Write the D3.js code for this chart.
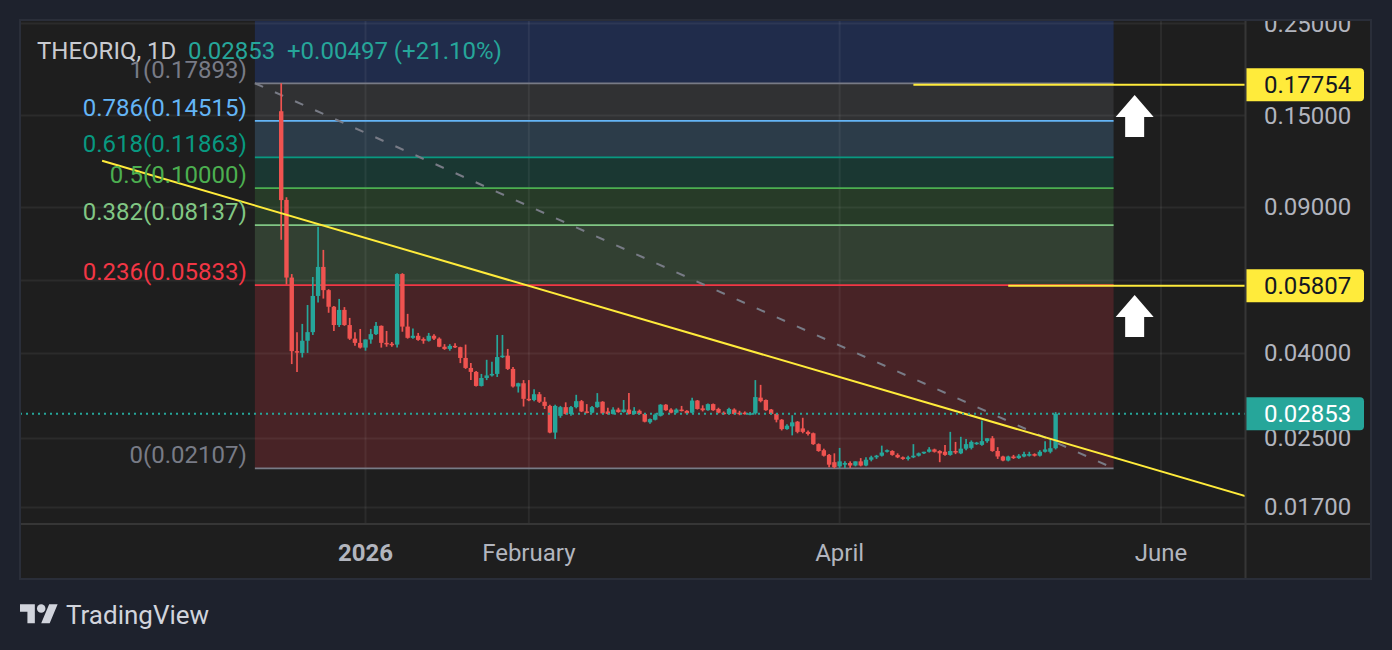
<!DOCTYPE html>
<html>
<head>
<meta charset="utf-8">
<script src="https://cdn.jsdelivr.net/npm/d3@7"></script>
<style>
  body { margin: 0; background: #1e222d; }
  svg { display: block; font-family: Roboto, "Noto Sans", sans-serif; }
</style>
</head>
<body>
<svg id="chart" width="1392" height="650"></svg>
<script>
// daily candles, THEORIQ 1D, first bar 2025-12-16
const firstDay = "2025-12-16";
const opens = [
  0.1532, 0.0936, 0.0608, 0.0404, 0.0400, 0.0428, 0.0449, 0.0549, 0.0645, 0.0567,
  0.0517, 0.0467, 0.0508, 0.0467, 0.0433, 0.0423, 0.0412, 0.0431, 0.0444, 0.0465,
  0.0423, 0.0421, 0.0419, 0.0620, 0.0463, 0.0435, 0.0440, 0.0432, 0.0428, 0.0440,
  0.0433, 0.0414, 0.0409, 0.0416, 0.0413, 0.0389, 0.0368, 0.0360, 0.0333, 0.0348,
  0.0353, 0.0356, 0.0391, 0.0394, 0.0366, 0.0332, 0.0338, 0.0310, 0.0308, 0.0318,
  0.0305, 0.0298, 0.0257, 0.0282, 0.0296, 0.0285, 0.0296, 0.0306, 0.0289, 0.0287,
  0.0296, 0.0305, 0.0289, 0.0285, 0.0292, 0.0288, 0.0292, 0.0285, 0.0290, 0.0285,
  0.0272, 0.0276, 0.0282, 0.0300, 0.0292, 0.0287, 0.0292, 0.0290, 0.0287, 0.0307,
  0.0294, 0.0291, 0.0301, 0.0293, 0.0287, 0.0285, 0.0292, 0.0287, 0.0287, 0.0285,
  0.0286, 0.0312, 0.0308, 0.0292, 0.0285, 0.0276, 0.0262, 0.0266, 0.0273, 0.0263,
  0.0258, 0.0256, 0.0241, 0.0233, 0.0227, 0.0218, 0.0213, 0.0215, 0.0217, 0.0214,
  0.0219, 0.0214, 0.0221, 0.0224, 0.0226, 0.0231, 0.0232, 0.0227, 0.0224, 0.0222,
  0.0224, 0.0226, 0.0229, 0.0231, 0.0234, 0.0232, 0.0231, 0.0227, 0.0232, 0.0229,
  0.0235, 0.0236, 0.0241, 0.0240, 0.0245, 0.0249, 0.0232, 0.0225, 0.0220, 0.0225,
  0.0223, 0.0225, 0.0226, 0.0228, 0.0226, 0.0231, 0.0231, 0.02356
];
const highs = [
  0.17893, 0.0950, 0.0620, 0.0449, 0.0470, 0.0522, 0.0610, 0.0805, 0.0709, 0.0570,
  0.0519, 0.0540, 0.0516, 0.0486, 0.0449, 0.0457, 0.0431, 0.0457, 0.0475, 0.0466,
  0.0452, 0.0425, 0.0623, 0.0623, 0.0497, 0.0458, 0.0447, 0.0436, 0.0447, 0.0444,
  0.0436, 0.0420, 0.0420, 0.0422, 0.0414, 0.0419, 0.0378, 0.0362, 0.0356, 0.0385,
  0.0381, 0.0442, 0.0442, 0.0409, 0.0370, 0.0339, 0.0344, 0.0344, 0.0327, 0.0322,
  0.0313, 0.0300, 0.0300, 0.0298, 0.0304, 0.0298, 0.0317, 0.0308, 0.0301, 0.0298,
  0.0320, 0.0306, 0.0295, 0.0296, 0.0295, 0.0308, 0.0320, 0.0296, 0.0292, 0.0286,
  0.0278, 0.0286, 0.0301, 0.0301, 0.0294, 0.0294, 0.0298, 0.0291, 0.0312, 0.0308,
  0.0299, 0.0302, 0.0302, 0.0295, 0.0289, 0.0295, 0.0294, 0.0290, 0.0289, 0.0288,
  0.0344, 0.0335, 0.0309, 0.0293, 0.0286, 0.0277, 0.0269, 0.0283, 0.0274, 0.0279,
  0.0260, 0.0257, 0.0242, 0.0235, 0.0228, 0.0229, 0.0236, 0.0219, 0.0219, 0.0219,
  0.0223, 0.0224, 0.0226, 0.0227, 0.0239, 0.0234, 0.0233, 0.0229, 0.0225, 0.0226,
  0.0241, 0.0230, 0.0231, 0.0237, 0.0235, 0.0233, 0.0240, 0.0258, 0.0244, 0.0251,
  0.0248, 0.0246, 0.0244, 0.0275, 0.0249, 0.0252, 0.0237, 0.0226, 0.0226, 0.0227,
  0.0228, 0.0231, 0.0231, 0.0229, 0.0233, 0.0245, 0.0248, 0.0288
];
const lows = [
  0.0750, 0.0585, 0.0376, 0.0360, 0.0390, 0.0400, 0.0442, 0.0529, 0.0541, 0.0500,
  0.0452, 0.0462, 0.0465, 0.0430, 0.0416, 0.0410, 0.0405, 0.0421, 0.0442, 0.0412,
  0.0414, 0.0414, 0.0412, 0.0450, 0.0433, 0.0433, 0.0428, 0.0421, 0.0426, 0.0430,
  0.0413, 0.0407, 0.0405, 0.0411, 0.0378, 0.0366, 0.0344, 0.0332, 0.0332, 0.0344,
  0.0351, 0.0350, 0.0389, 0.0364, 0.0330, 0.0321, 0.0297, 0.0306, 0.0306, 0.0303,
  0.0293, 0.0256, 0.0248, 0.0279, 0.0284, 0.0282, 0.0294, 0.0288, 0.0286, 0.0286,
  0.0295, 0.0285, 0.0284, 0.0284, 0.0287, 0.0287, 0.0284, 0.0284, 0.0284, 0.0272,
  0.0270, 0.0275, 0.0281, 0.0290, 0.0286, 0.0286, 0.0289, 0.0285, 0.0286, 0.0292,
  0.0289, 0.0290, 0.0290, 0.0286, 0.0284, 0.0284, 0.0284, 0.0283, 0.0284, 0.0283,
  0.0284, 0.0304, 0.0290, 0.0284, 0.0272, 0.0260, 0.0261, 0.0253, 0.0256, 0.0256,
  0.0253, 0.0240, 0.0231, 0.0225, 0.0212, 0.02107, 0.0211, 0.0211, 0.0211, 0.0213,
  0.0213, 0.0213, 0.0219, 0.0222, 0.0225, 0.0230, 0.0226, 0.0223, 0.0221, 0.0220,
  0.0223, 0.0225, 0.0228, 0.0230, 0.0230, 0.0218, 0.0226, 0.0226, 0.0228, 0.0228,
  0.0233, 0.0234, 0.0240, 0.0239, 0.0243, 0.0231, 0.0222, 0.0219, 0.0219, 0.0222,
  0.0222, 0.0224, 0.0225, 0.0225, 0.0225, 0.0230, 0.0229, 0.0234
];
const closes = [
  0.0935, 0.0608, 0.0404, 0.0401, 0.0428, 0.0449, 0.0549, 0.0645, 0.0567, 0.0517,
  0.0467, 0.0508, 0.0467, 0.0433, 0.0423, 0.0412, 0.0431, 0.0444, 0.0465, 0.0423,
  0.0421, 0.0419, 0.0620, 0.0463, 0.0435, 0.0440, 0.0430, 0.0428, 0.0440, 0.0433,
  0.0414, 0.0409, 0.0416, 0.0413, 0.0389, 0.0368, 0.0360, 0.0333, 0.0348, 0.0353,
  0.0356, 0.0391, 0.0394, 0.0366, 0.0332, 0.0338, 0.0310, 0.0308, 0.0318, 0.0305,
  0.0298, 0.0257, 0.0298, 0.0296, 0.0285, 0.0296, 0.0306, 0.0289, 0.0287, 0.0296,
  0.0305, 0.0286, 0.0285, 0.0292, 0.0288, 0.0292, 0.0285, 0.0290, 0.0285, 0.0273,
  0.0277, 0.0284, 0.0300, 0.0291, 0.0287, 0.0292, 0.0290, 0.0286, 0.0307, 0.0293,
  0.0291, 0.0301, 0.0291, 0.0287, 0.0285, 0.0293, 0.0285, 0.0285, 0.0285, 0.0286,
  0.0313, 0.0306, 0.0291, 0.0285, 0.0276, 0.0262, 0.0267, 0.0272, 0.0258, 0.0258,
  0.0255, 0.0241, 0.0232, 0.0226, 0.0215, 0.0212, 0.0219, 0.0217, 0.0214, 0.0219,
  0.0214, 0.0221, 0.0224, 0.0226, 0.0230, 0.0233, 0.0227, 0.0224, 0.0222, 0.0224,
  0.0226, 0.0229, 0.0231, 0.0234, 0.0231, 0.0229, 0.0227, 0.0232, 0.0230, 0.0235,
  0.0241, 0.0244, 0.0243, 0.0245, 0.0249, 0.0232, 0.0225, 0.0220, 0.0225, 0.0223,
  0.0226, 0.0228, 0.0228, 0.0226, 0.0231, 0.0234, 0.02356, 0.02853
];

const priceTicks = [0.25, 0.15, 0.09, 0.06, 0.04, 0.025, 0.017];
const timeTicks = ["2026-01-01", "2026-02-01", "2026-04-01", "2026-06-01"];
const timeLabels = ["2026", "February", "April", "June"];

// fib retracement drawn from the top to the bottom of the move
const fibStart = "2025-12-11", fibEnd = "2026-05-23";
const fibLevels = [0, 0.236, 0.382, 0.5, 0.618, 0.786, 1, 1.618];
const fibPrices = [0.02107, 0.05833, 0.08137, 0.10000, 0.11863, 0.14515, 0.17893, 0.27649];
const fibColors = ["#787b86", "#f23645", "#81c784", "#4caf50", "#089981", "#64b5f6", "#787b86", "#2962ff"];

const trendPoints = [["2025-11-12", 0.1164], ["2026-05-12", 0.0246]];
const rayStarts = ["2026-04-15", "2026-05-03"];
const rayPrices = [0.17754, 0.05807];
const arrowDays = ["2026-05-27", "2026-05-27"];
const arrowPrices = [0.1676, 0.0552];

const symbol = "THEORIQ, 1D";
const lastPrice = 0.02853, change = 0.00497, changePct = 21.10;

const up = "#26a69a", down = "#ef5350";
const pane = {x0: 20, x1: 1245, y0: 20, y1: 523};
const panel = {x0: 20, x1: 1371, y0: 20, y1: 579};
const FS = 24;

const parse = d3.utcParse("%Y-%m-%d");
const DAY = 864e5;
const t0 = parse(firstDay);
const candles = closes.map((c, i) => ({
  date: new Date(+t0 + i * DAY), o: opens[i], h: highs[i], l: lows[i], c: c
}));

const x = d3.scaleUtc()
  .domain([parse("2026-01-01"), parse("2026-06-01")])
  .range([365.5, 1161]);
const y = d3.scaleLog()
  .domain([0.01555, 0.2543])
  .range([pane.y1, pane.y0]);

const svg = d3.select("#chart");
const defs = svg.append("defs");
defs.append("clipPath").attr("id", "paneClip").append("rect")
  .attr("x", pane.x0).attr("y", pane.y0)
  .attr("width", pane.x1 - pane.x0).attr("height", pane.y1 - pane.y0);
defs.append("clipPath").attr("id", "axisClip").append("rect")
  .attr("x", pane.x1).attr("y", pane.y0)
  .attr("width", panel.x1 - pane.x1).attr("height", pane.y1 - pane.y0);

// panel background
svg.append("rect")
  .attr("x", panel.x0).attr("y", panel.y0)
  .attr("width", panel.x1 - panel.x0).attr("height", panel.y1 - panel.y0)
  .attr("fill", "#1e1e1e");

const g = svg.append("g").attr("clip-path", "url(#paneClip)");

// fib fills (colour of the upper level)
const fx0 = x(parse(fibStart)), fx1 = x(parse(fibEnd));
for (let i = 0; i < fibLevels.length - 1; i++) {
  const yTop = y(fibPrices[i + 1]), yBot = y(fibPrices[i]);
  g.append("rect")
    .attr("x", fx0).attr("y", yTop)
    .attr("width", fx1 - fx0).attr("height", yBot - yTop)
    .attr("fill", fibColors[i + 1]).attr("fill-opacity", 0.2);
}

// grid
g.selectAll(".hgrid").data(priceTicks).enter().append("line")
  .attr("x1", pane.x0).attr("x2", pane.x1)
  .attr("y1", d => Math.round(y(d)) + 0.5).attr("y2", d => Math.round(y(d)) + 0.5)
  .attr("stroke", "#ffffff").attr("stroke-opacity", 0.06).attr("stroke-width", 2);
g.selectAll(".vgrid").data(timeTicks).enter().append("line")
  .attr("x1", d => x(parse(d))).attr("x2", d => x(parse(d)))
  .attr("y1", pane.y0).attr("y2", pane.y1)
  .attr("stroke", "#ffffff").attr("stroke-opacity", 0.06).attr("stroke-width", 2);

// fib level lines
fibLevels.slice(0, 7).forEach((l, i) => {
  const yy = y(fibPrices[i]);
  g.append("line")
    .attr("x1", fx0).attr("x2", fx1).attr("y1", yy).attr("y2", yy)
    .attr("stroke", fibColors[i]).attr("stroke-width", 1.75);
});

// fib trend (dashed diagonal)
g.append("line")
  .attr("x1", fx0).attr("y1", y(fibPrices[6]))
  .attr("x2", fx1).attr("y2", y(fibPrices[0]))
  .attr("stroke", "#787b86").attr("stroke-width", 2)
  .attr("stroke-dasharray", "9,13");

// candles
const bw = 4.4;
const cg = g.append("g");
cg.selectAll(".wick").data(candles).enter().append("line")
  .attr("x1", d => x(d.date)).attr("x2", d => x(d.date))
  .attr("y1", d => y(d.h)).attr("y2", d => y(d.l))
  .attr("stroke", d => d.c >= d.o ? up : down).attr("stroke-width", 1.7);
cg.selectAll(".body").data(candles).enter().append("rect")
  .attr("x", d => x(d.date) - bw / 2)
  .attr("y", d => y(Math.max(d.o, d.c)))
  .attr("width", bw)
  .attr("height", d => Math.max(1.5, Math.abs(y(d.o) - y(d.c))))
  .attr("fill", d => d.c >= d.o ? up : down);

// descending trend line, extended to the right
const tp = trendPoints.map(p => [x(parse(p[0])), y(p[1])]);
const slope = (tp[1][1] - tp[0][1]) / (tp[1][0] - tp[0][0]);
g.append("line")
  .attr("x1", tp[0][0]).attr("y1", tp[0][1])
  .attr("x2", pane.x1 + 10).attr("y2", tp[0][1] + slope * (pane.x1 + 10 - tp[0][0]))
  .attr("stroke", "#ffeb3b").attr("stroke-width", 2);

// horizontal rays
rayPrices.forEach((p, i) => {
  g.append("line")
    .attr("x1", x(parse(rayStarts[i]))).attr("x2", pane.x1)
    .attr("y1", y(p)).attr("y2", y(p))
    .attr("stroke", "#ffeb3b").attr("stroke-width", 2);
});

// last price line
g.append("line")
  .attr("x1", pane.x0).attr("x2", pane.x1)
  .attr("y1", y(lastPrice)).attr("y2", y(lastPrice))
  .attr("stroke", up).attr("stroke-width", 2).attr("stroke-dasharray", "2,4");

// up arrows
arrowPrices.forEach((p, i) => {
  g.append("path")
    .attr("transform", `translate(${x(parse(arrowDays[i]))},${y(p)})`)
    .attr("d", "M0,0L19,22L9.5,22L9.5,42L-9.5,42L-9.5,22L-19,22Z")
    .attr("fill", "#ffffff");
});

// fib labels on the left
fibLevels.slice(0, 7).forEach((l, i) => {
  svg.append("text")
    .attr("x", fx0 - 8).attr("y", y(fibPrices[i]) - 5)
    .attr("text-anchor", "end")
    .attr("font-size", FS).attr("fill", fibColors[i])
    .text(`${l}(${fibPrices[i].toFixed(5)})`);
});

// price axis; labels hidden where a badge sits on them
const badgePrices = rayPrices.concat([lastPrice]);
const ag = svg.append("g").attr("clip-path", "url(#axisClip)");
ag.selectAll(".ptick")
  .data(priceTicks.filter(t => badgePrices.every(b => Math.abs(y(t) - y(b)) > 16.5)))
  .enter().append("text")
  .attr("x", 1264).attr("y", d => y(d) + 8.5)
  .attr("font-size", FS).attr("fill", "#b2b5be")
  .text(d => d.toFixed(5));

function badge(p, fill, color) {
  const cy = y(p), top = cy - 16.5, bot = cy + 16.5, r = 4, xr = 1364;
  ag.append("path")
    .attr("d", `M${pane.x1},${top}H${xr - r}A${r},${r} 0 0 1 ${xr},${top + r}V${bot - r}A${r},${r} 0 0 1 ${xr - r},${bot}H${pane.x1}Z`)
    .attr("fill", fill);
  ag.append("text")
    .attr("x", 1264).attr("y", cy + 8.5)
    .attr("font-size", FS).attr("fill", color)
    .text(p.toFixed(5));
}
rayPrices.forEach(p => badge(p, "#ffeb3b", "#131722"));
badge(lastPrice, up, "#ffffff");

// time axis
svg.selectAll(".ttick").data(timeTicks).enter().append("text")
  .attr("x", d => x(parse(d))).attr("y", 560.5)
  .attr("text-anchor", "middle")
  .attr("font-size", FS).attr("fill", "#b2b5be")
  .attr("font-weight", (d, i) => i === 0 ? "bold" : "normal")
  .text((d, i) => timeLabels[i]);

// panel frame and separators
svg.append("line").attr("x1", pane.x1 + 0.5).attr("x2", pane.x1 + 0.5)
  .attr("y1", panel.y0).attr("y2", panel.y1).attr("stroke", "#363636").attr("stroke-width", 2);
svg.append("line").attr("x1", panel.x0).attr("x2", panel.x1)
  .attr("y1", pane.y1 + 1).attr("y2", pane.y1 + 1).attr("stroke", "#363636").attr("stroke-width", 2);
svg.append("rect")
  .attr("x", panel.x0).attr("y", panel.y0)
  .attr("width", panel.x1 - panel.x0).attr("height", panel.y1 - panel.y0)
  .attr("fill", "none").attr("stroke", "#2a2e39").attr("stroke-width", 2);

// legend header
svg.append("text").attr("x", 37).attr("y", 58.5).attr("font-size", FS)
  .attr("fill", "#c9cbd1").text(symbol);
svg.append("text").attr("x", 188).attr("y", 58.5).attr("font-size", FS)
  .attr("fill", up).text(lastPrice.toFixed(5));
svg.append("text").attr("x", 287).attr("y", 58.5).attr("font-size", FS)
  .attr("fill", up).text(`+${change.toFixed(5)} (+${changePct.toFixed(2)}%)`);

// TradingView mark
svg.append("path")
  .attr("transform", "translate(20,600) scale(1.06)")
  .attr("d", "M14 22H7V11H0V4h14v18zM28 22h-8l7.5-18h8L28 22z")
  .attr("fill", "#d1d4dc");
svg.append("circle").attr("cx", 20 + 20 * 1.06).attr("cy", 600 + 8 * 1.06).attr("r", 4 * 1.06)
  .attr("fill", "#d1d4dc");
svg.append("text").attr("x", 66).attr("y", 623.5).attr("font-size", 26)
  .attr("fill", "#d1d4dc").text("TradingView");
</script>
</body>
</html>
